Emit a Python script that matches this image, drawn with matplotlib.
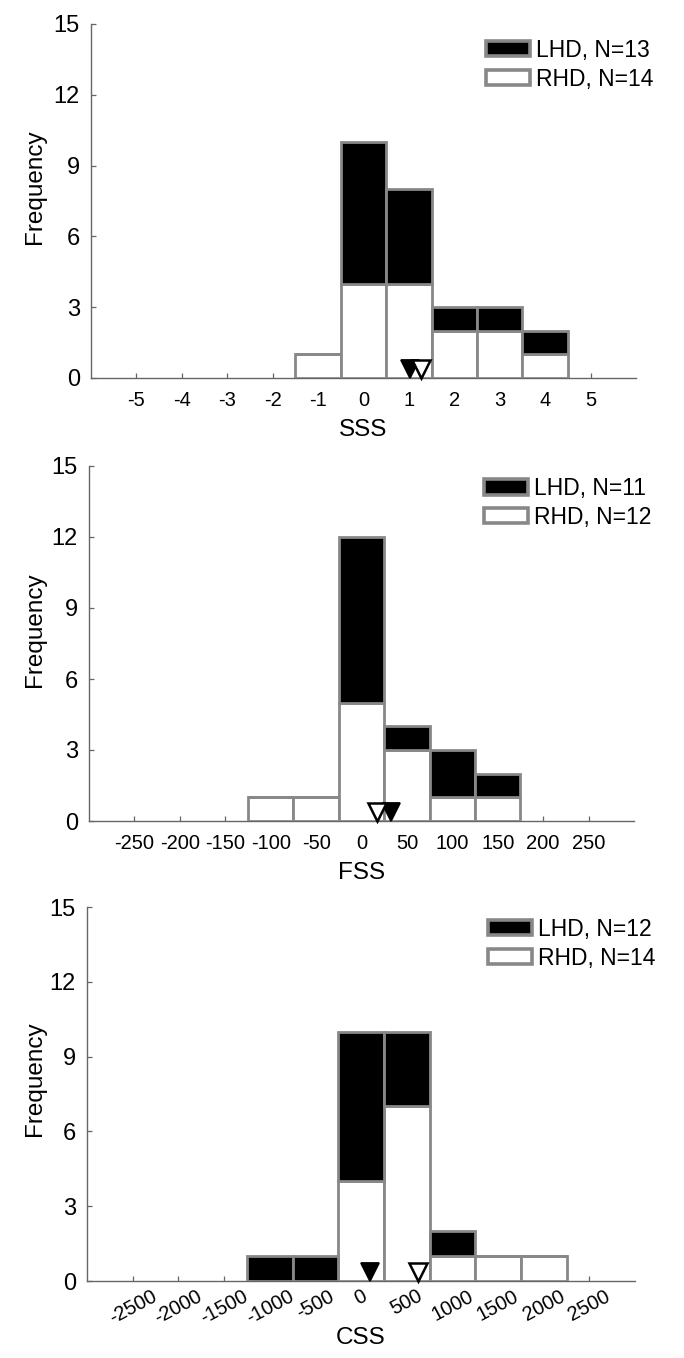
import matplotlib
matplotlib.use("Agg")
import matplotlib.pyplot as plt
from matplotlib.transforms import offset_copy

plt.rcParams['font.family'] = ['Liberation Sans', 'DejaVu Sans']
plt.rcParams['axes.unicode_minus'] = False

# ---------------- data ----------------
sss_centers = [-1, 0, 1, 2, 3, 4]
sss_rhd = [1, 4, 4, 2, 2, 1]
sss_lhd = [0, 6, 4, 1, 1, 1]
sss_ticks = [-5, -4, -3, -2, -1, 0, 1, 2, 3, 4, 5]
sss_mean_lhd = 1.03
sss_mean_rhd = 1.27

fss_centers = [-100, -50, 0, 50, 100, 150]
fss_rhd = [1, 1, 5, 3, 1, 1]
fss_lhd = [0, 0, 7, 1, 2, 1]
fss_ticks = [-250, -200, -150, -100, -50, 0, 50, 100, 150, 200, 250]
fss_mean_lhd = 33
fss_mean_rhd = 17

css_centers = [-1000, -500, 0, 500, 1000, 1500, 2000]
css_rhd = [0, 0, 4, 7, 1, 1, 1]
css_lhd = [1, 1, 6, 3, 1, 0, 0]
css_ticks = [-2500, -2000, -1500, -1000, -500, 0, 500, 1000, 1500, 2000, 2500]
css_mean_lhd = 100
css_mean_rhd = 620

y_ticks = [0, 3, 6, 9, 12, 15]
lhd_n = [13, 11, 12]
rhd_n = [14, 12, 14]
x_names = ['SSS', 'FSS', 'CSS']

# ---------------- style ----------------
EDGE = '#888888'
AXC = '#666666'

W, H = 684, 1358
fig = plt.figure(figsize=(W / 100, H / 100), dpi=100)

# pixel geometry: left, right, top(y=15), bottom(y=0)
geo = [(91, 636, 24, 378), (89, 634, 466, 821), (87, 635, 907, 1281)]
leg_anchor = [(0.725, 0.958), (0.725, 0.969), (0.732, 0.971)]

panels = [
    dict(centers=sss_centers, rhd=sss_rhd, lhd=sss_lhd, ticks=sss_ticks, width=1,
         xlim=(-6, 6), means=(sss_mean_lhd, sss_mean_rhd), rot=0),
    dict(centers=fss_centers, rhd=fss_rhd, lhd=fss_lhd, ticks=fss_ticks, width=50,
         xlim=(-300, 300), means=(fss_mean_lhd, fss_mean_rhd), rot=0),
    dict(centers=css_centers, rhd=css_rhd, lhd=css_lhd, ticks=css_ticks, width=500,
         xlim=(-3000, 3000), means=(css_mean_lhd, css_mean_rhd), rot=28),
]

for i, p in enumerate(panels):
    l, r, t, b = geo[i]
    ax = fig.add_axes([l / W, 1 - b / H, (r - l) / W, (b - t) / H])
    b_r = ax.bar(p['centers'], p['rhd'], width=p['width'], color='white', edgecolor=EDGE,
                 linewidth=2.0, zorder=2)
    b_l = ax.bar(p['centers'], p['lhd'], width=p['width'], bottom=p['rhd'], color='black',
                 edgecolor=EDGE, linewidth=2.0, zorder=2)
    ax.set_xlim(*p['xlim'])
    ax.set_ylim(0, 15)
    ax.set_yticks(y_ticks)
    ax.set_xticks(p['ticks'])
    if p['rot']:
        ax.set_xticklabels([str(v) for v in p['ticks']], rotation=p['rot'], ha='center', va='top')
    else:
        ax.set_xticklabels([str(v) for v in p['ticks']])
    for s in ['top', 'right']:
        ax.spines[s].set_visible(False)
    for s in ['left', 'bottom']:
        ax.spines[s].set_color(AXC)
        ax.spines[s].set_linewidth(1.0)
        ax.spines[s].set_zorder(1)
    ax.tick_params(axis='both', direction='in', length=3.5, width=0.9, color=AXC,
                   labelcolor='black')
    ax.tick_params(axis='y', labelsize=17, pad=8)
    ax.tick_params(axis='x', labelsize=14.5, pad=9.5 if not p['rot'] else 4)

    ax.set_xlabel(x_names[i], fontsize=17.5, labelpad=6 if not p['rot'] else 0)
    ax.set_ylabel('Frequency', fontsize=17.5)
    ax.yaxis.set_label_coords((35 - l) / (r - l), 0.54)
    ax.yaxis.label.set_va('center')

    ms = 12.5
    tr = offset_copy(ax.transData, fig=fig, y=ms / 2, units='points')
    m_l, m_r = p['means']
    ax.plot([m_l], [0], marker='v', ms=ms, mfc='black', mec='black', mew=1.3,
            linestyle='none', transform=tr, clip_on=False, zorder=5)
    ax.plot([m_r], [0], marker='v', ms=ms, mfc='white', mec='black', mew=1.8,
            linestyle='none', transform=tr, clip_on=False, zorder=6)

    leg = ax.legend([b_l, b_r], [f'LHD, N={lhd_n[i]}', f'RHD, N={rhd_n[i]}'],
                    loc='upper left', bbox_to_anchor=leg_anchor[i], frameon=False,
                    fontsize=16.5, handlelength=1.92, handleheight=0.65, handletextpad=0.26,
                    labelspacing=0.25, borderpad=0, borderaxespad=0)
    for h in leg.legend_handles:
        h.set_linewidth(2.6)

fig.savefig('out.png', dpi=100, facecolor='white')
